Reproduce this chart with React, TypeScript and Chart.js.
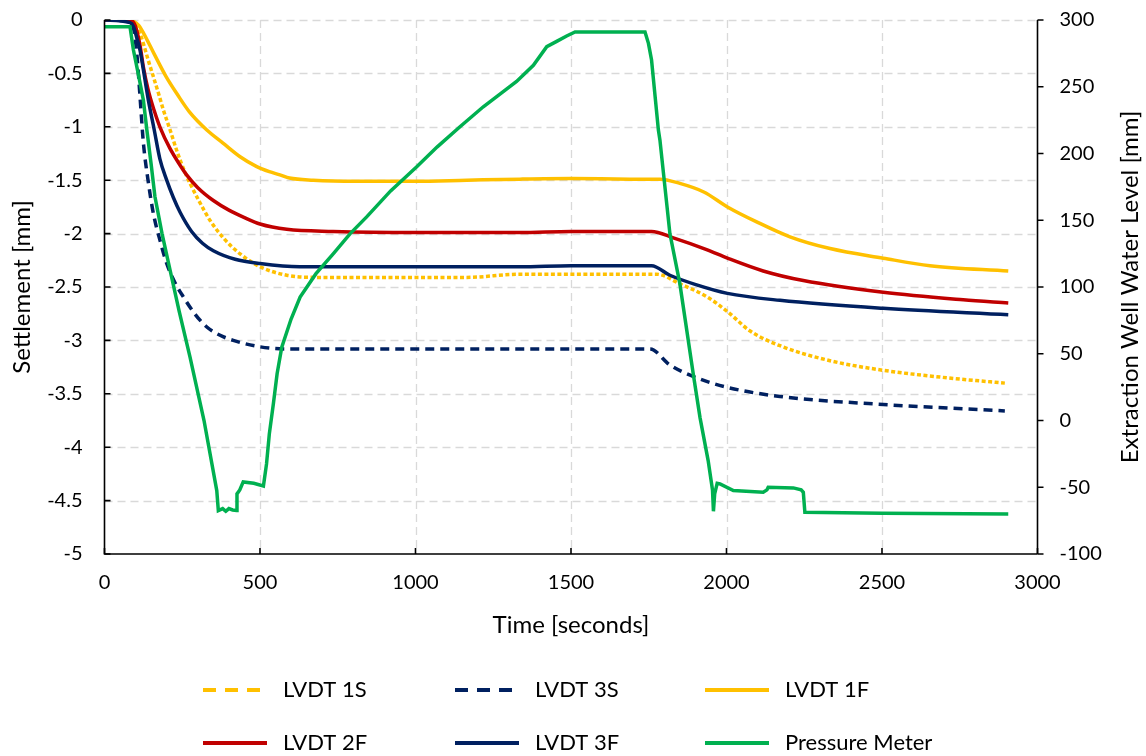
import React, { useEffect, useRef } from "react";
import { Chart, registerables } from "chart.js";

Chart.register(...registerables);

const FONT = "Lato, 'Open Sans', sans-serif";

// ---- tick labels ----
const timeTicks = [0, 500, 1000, 1500, 2000, 2500, 3000];
const settlementTicks = [0, -0.5, -1, -1.5, -2, -2.5, -3, -3.5, -4, -4.5, -5];
const waterTicks = [300, 250, 200, 150, 100, 50, 0, -50, -100];

// ---- series ----
const t1S = [0, 90, 105, 115, 125, 140, 157, 175, 189, 211, 232, 255, 275, 305, 339, 385, 436, 500, 586, 682, 1000, 1165, 1336, 1500, 1775, 1850, 1936, 2003, 2075, 2172, 2333, 2504, 2708, 2895];
const v1S = [0, -0.01, -0.06, -0.13, -0.22, -0.37, -0.53, -0.7, -0.84, -1.03, -1.22, -1.4, -1.53, -1.7, -1.875, -2.05, -2.19, -2.31, -2.39, -2.41, -2.41, -2.41, -2.38, -2.38, -2.38, -2.47, -2.59, -2.73, -2.91, -3.05, -3.19, -3.28, -3.35, -3.4];

const t3S = [0, 85, 95, 105, 115, 125, 140, 157, 180, 200, 225, 253, 290, 329, 370, 414, 500, 586, 1000, 1500, 1754, 1818, 1904, 2003, 2172, 2504, 2895];
const v3S = [0, -0.02, -0.1, -0.35, -0.75, -1.15, -1.5, -1.81, -2.08, -2.28, -2.45, -2.59, -2.75, -2.875, -2.95, -3.0, -3.06, -3.08, -3.08, -3.08, -3.08, -3.23, -3.35, -3.44, -3.525, -3.6, -3.66];

const t1F = [0, 50, 90, 110, 125, 160, 198, 235, 273, 329, 380, 436, 488, 530, 564, 595, 671, 809, 1000, 1165, 1336, 1500, 1690, 1786, 1850, 1927, 2003, 2097, 2204, 2333, 2504, 2654, 2906];
const v1F = [0, 0, -0.01, -0.05, -0.12, -0.32, -0.53, -0.7, -0.86, -1.03, -1.15, -1.28, -1.37, -1.42, -1.45, -1.48, -1.5, -1.51, -1.51, -1.5, -1.49, -1.485, -1.49, -1.49, -1.53, -1.61, -1.75, -1.89, -2.03, -2.14, -2.23, -2.3, -2.35];

const t2F = [0, 80, 95, 103, 115, 125, 140, 160, 178, 210, 243, 264, 300, 350, 400, 450, 500, 586, 735, 1000, 1336, 1500, 1759, 1829, 1936, 2003, 2118, 2247, 2504, 2761, 2906];
const v2F = [0, 0, -0.03, -0.09, -0.25, -0.44, -0.65, -0.85, -1.0, -1.2, -1.36, -1.45, -1.57, -1.69, -1.78, -1.85, -1.91, -1.96, -1.98, -1.99, -1.99, -1.98, -1.98, -2.04, -2.15, -2.23, -2.35, -2.44, -2.55, -2.62, -2.65];

const t3F = [0, 82, 93, 105, 114, 128, 141, 160, 178, 200, 221, 243, 280, 315, 350, 420, 500, 628, 1000, 1336, 1500, 1759, 1818, 1904, 2003, 2172, 2504, 2906];
const v3F = [0, -0.025, -0.06, -0.18, -0.28, -0.52, -0.75, -1.03, -1.3, -1.5, -1.66, -1.8, -1.98, -2.09, -2.16, -2.24, -2.28, -2.31, -2.31, -2.31, -2.3, -2.3, -2.39, -2.48, -2.56, -2.625, -2.7, -2.76];

const tPM = [0, 82, 93, 110, 125, 136, 150, 162, 185, 211, 240, 275, 320, 361, 366, 380, 390, 400, 412, 425, 426, 435, 446, 480, 511, 521, 530, 543, 555, 570, 600, 629, 680, 736, 790, 843, 920, 1004, 1070, 1143, 1218, 1280, 1325, 1379, 1422, 1454, 1486, 1513, 1600, 1738, 1749, 1759, 1781, 1786, 1818, 1850, 1893, 1915, 1941, 1955, 1958, 1962, 1970, 1979, 2022, 2118, 2130, 2134, 2215, 2240, 2247, 2252, 2500, 2906];
const vPM = [295, 295, 277.5, 258, 240, 218, 192, 168, 140, 112.5, 82, 47.5, 0, -52.5, -67.5, -66, -68, -66, -67, -67.5, -55, -52, -46, -47, -49, -32.5, -10, 12.5, 35, 55, 76, 92.5, 110, 125, 140, 152.5, 172, 190, 205, 220, 235, 246, 254, 266, 280, 284, 288, 291, 291, 291, 282.5, 270, 217.5, 210, 140, 102.5, 35, 2, -30, -52, -68, -55, -47, -47.5, -52.5, -53.8, -52, -50, -50.5, -52, -53.8, -68.8, -69.5, -70];

const labels = ["LVDT 1S", "LVDT 3S", "LVDT 1F", "LVDT 2F", "LVDT 3F", "Pressure Meter"];
const colors = ["#FFC000", "#002060", "#FFC000", "#C00000", "#002060", "#00B050"];
const plotDashes = [[4, 2.5], [9, 6], [], [], [], []];
const legendDashes = [[13, 9], [13, 9], [], [], [], []];

const toPts = (t: number[], v: number[]) => t.map((x, i) => ({ x, y: v[i] }));

const overlay = {
  id: "overlay",
  beforeDatasetsDraw(chart: any) {
    const { ctx, chartArea: a, scales } = chart;
    ctx.save();
    ctx.strokeStyle = "#D9D9D9";
    ctx.lineWidth = 1.3;
    ctx.setLineDash([8, 5]);
    timeTicks.forEach((v) => {
      if (v === 0 || v === 3000) return;
      const x = Math.round(scales.x.getPixelForValue(v)) + 0.5;
      ctx.beginPath();
      ctx.moveTo(x, a.top);
      ctx.lineTo(x, a.bottom);
      ctx.stroke();
    });
    settlementTicks.forEach((v) => {
      if (v === -5) return;
      const y = Math.round(scales.y.getPixelForValue(v)) + 0.5;
      ctx.beginPath();
      ctx.moveTo(a.left, y);
      ctx.lineTo(a.right, y);
      ctx.stroke();
    });
    ctx.restore();
  },
  afterDraw(chart: any) {
    const { ctx, chartArea: a, scales } = chart;
    ctx.save();
    ctx.strokeStyle = "#000";
    ctx.lineWidth = 1.6;
    ctx.setLineDash([]);
    ctx.beginPath();
    ctx.moveTo(a.left, a.top);
    ctx.lineTo(a.left, a.bottom);
    ctx.lineTo(a.right, a.bottom);
    ctx.moveTo(a.right, a.top);
    ctx.lineTo(a.right, a.bottom);
    ctx.stroke();
    const TL = 6;
    ctx.beginPath();
    timeTicks.forEach((v) => {
      const x = scales.x.getPixelForValue(v);
      ctx.moveTo(x, a.bottom);
      ctx.lineTo(x, a.bottom - TL);
    });
    settlementTicks.forEach((v) => {
      const y = scales.y.getPixelForValue(v);
      ctx.moveTo(a.left, y);
      ctx.lineTo(a.left + TL, y);
    });
    waterTicks.forEach((v) => {
      const y = scales.y2.getPixelForValue(v);
      ctx.moveTo(a.right, y);
      ctx.lineTo(a.right + TL, y);
    });
    ctx.stroke();

    // axis titles
    ctx.fillStyle = "#000";
    ctx.font = `24px ${FONT}`;
    ctx.textAlign = "center";
    ctx.textBaseline = "middle";
    ctx.fillText("Time [seconds]", (a.left + a.right) / 2, 625);
    const cy = (a.top + a.bottom) / 2;
    ctx.save();
    ctx.translate(22, cy);
    ctx.rotate(-Math.PI / 2);
    ctx.fillText("Settlement [mm]", 0, 0);
    ctx.restore();
    ctx.save();
    ctx.translate(1130, cy);
    ctx.rotate(-Math.PI / 2);
    ctx.fillText("Extraction Well Water Level [mm]", 0, 0);
    ctx.restore();

    // legend
    ctx.font = `22px ${FONT}`;
    const colX = [203, 455, 705];
    const rowY = [690, 743];
    ctx.textAlign = "left";
    chart.data.datasets.forEach((ds: any, i: number) => {
      const cx = colX[i % 3];
      const ry = rowY[Math.floor(i / 3)];
      ctx.strokeStyle = colors[i];
      ctx.lineWidth = 4;
      ctx.setLineDash(legendDashes[i]);
      ctx.beginPath();
      ctx.moveTo(cx, ry);
      ctx.lineTo(cx + 64, ry);
      ctx.stroke();
      ctx.setLineDash([]);
      ctx.fillStyle = "#000";
      ctx.fillText(ds.label, cx + 80, ry);
    });
    ctx.restore();
  },
};

const fmt = (v: any) => String(Number(v));
const noPad = (s: any) => {
  s.paddingTop = 0;
  s.paddingBottom = 0;
  s.paddingLeft = 0;
  s.paddingRight = 0;
};

export default function App() {
  const ref = useRef<HTMLCanvasElement | null>(null);
  useEffect(() => {
    if (!ref.current) return;
    const seriesT = [t1S, t3S, t1F, t2F, t3F, tPM];
    const seriesV = [v1S, v3S, v1F, v2F, v3F, vPM];
    const datasets = labels.map((label, i) => ({
      label,
      data: toPts(seriesT[i], seriesV[i]),
      borderColor: colors[i],
      backgroundColor: colors[i],
      borderWidth: 3.5,
      borderDash: plotDashes[i],
      pointRadius: 0,
      fill: false,
      cubicInterpolationMode: i === 5 ? "default" : "monotone",
      tension: 0,
      yAxisID: i === 5 ? "y2" : "y",
      order: 6 - i,
    }));
    const tickFont = { family: FONT, size: 20 };
    const chart = new Chart(ref.current, {
      type: "line",
      data: { datasets } as any,
      plugins: [overlay],
      options: {
        animation: false,
        responsive: false,
        parsing: false as any,
        layout: { padding: { top: 20, left: 0, right: 0, bottom: 0 } },
        plugins: { legend: { display: false }, tooltip: { enabled: false } },
        scales: {
          x: {
            type: "linear",
            min: 0,
            max: 3000,
            grid: { display: false, drawTicks: false },
            border: { display: false },
            afterBuildTicks: (s: any) => {
              s.ticks = timeTicks.map((value) => ({ value }));
            },
            afterFit: (s: any) => {
              s.height = 202;
              noPad(s);
            },
            ticks: { font: tickFont, color: "#000", padding: 17, maxRotation: 0, autoSkip: false, callback: fmt },
          },
          y: {
            type: "linear",
            position: "left",
            min: -5,
            max: 0,
            grid: { display: false, drawTicks: false },
            border: { display: false },
            afterBuildTicks: (s: any) => {
              s.ticks = settlementTicks.map((value) => ({ value }));
            },
            afterFit: (s: any) => {
              s.width = 104.5;
              noPad(s);
            },
            ticks: { font: tickFont, color: "#000", padding: 22, autoSkip: false, callback: fmt },
          },
          y2: {
            type: "linear",
            position: "right",
            min: -100,
            max: 300,
            grid: { display: false, drawTicks: false },
            border: { display: false },
            afterBuildTicks: (s: any) => {
              s.ticks = waterTicks.map((value) => ({ value }));
            },
            afterFit: (s: any) => {
              s.width = 108.5;
              noPad(s);
            },
            ticks: { font: tickFont, color: "#000", padding: 22, autoSkip: false, callback: fmt },
          },
        },
      } as any,
    });
    return () => chart.destroy();
  }, []);
  return (
    <div style={{ position: "fixed", left: 0, top: 0, width: 1146, height: 756, background: "#fff" }}>
      <canvas ref={ref} width={1146} height={756} style={{ display: "block" }} />
    </div>
  );
}
